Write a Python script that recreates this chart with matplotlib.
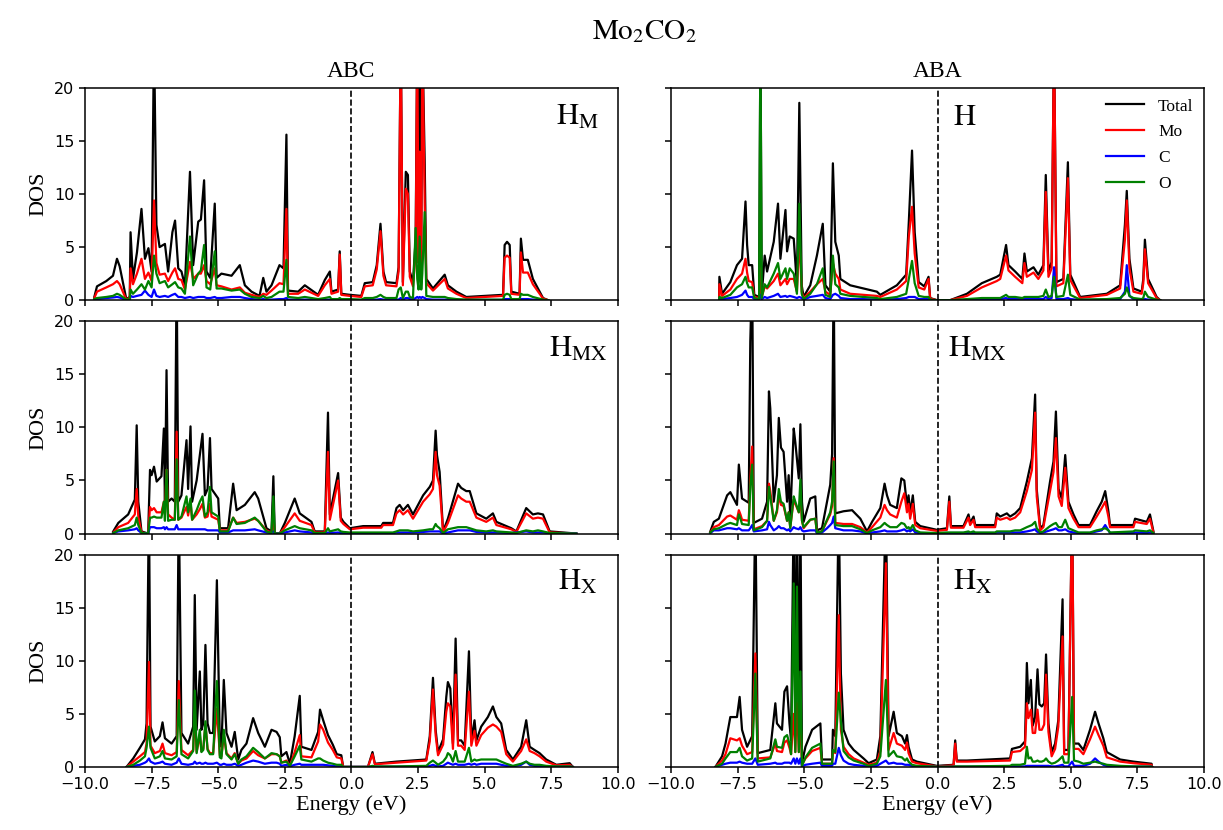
import matplotlib
matplotlib.use("Agg")
import matplotlib.pyplot as plt

plt.rcParams['font.family'] = ['Liberation Serif', 'DejaVu Serif']
plt.rcParams['mathtext.fontset'] = 'stix'

# ---------------- ABC / H_M ----------------
abc_hm_e = [-9.65, -9.55, -9.2, -8.95, -8.8, -8.7, -8.45, -8.32, -8.29, -8.2,
            -8.05, -7.88, -7.75, -7.62, -7.5, -7.41, -7.32, -7.2, -7.0, -6.88,
            -6.72, -6.62, -6.5, -6.38, -6.25, -6.06, -5.94, -5.75, -5.65, -5.53,
            -5.44, -5.3, -5.13, -5.06, -4.88, -4.5, -4.19, -4.0, -3.75, -3.45,
            -3.31, -3.19, -3.0, -2.7, -2.55, -2.44, -2.38, -2.0, -1.75, -1.25,
            -1.0, -0.81, -0.75, -0.5, -0.44, -0.38, -0.06, 0.37, 0.5, 0.8,
            0.95, 1.09, 1.2, 1.3, 1.69, 1.77, 1.85, 1.93, 2.04, 2.12,
            2.19, 2.31, 2.41, 2.47, 2.52, 2.56, 2.62, 2.66, 2.75, 2.81,
            3.06, 3.5, 3.62, 3.94, 4.31, 5.69, 5.75, 5.84, 5.94, 6.0,
            6.31, 6.36, 6.44, 6.62, 6.81, 7.19, 7.38]
abc_hm_total = [0.3, 1.3, 1.8, 2.3, 3.9, 3.2, 0.1, 0.3, 6.4, 2.0,
                4.5, 8.6, 3.9, 4.9, 2.7, 25, 7.1, 5.0, 5.3, 2.7,
                6.4, 7.5, 3.0, 2.7, 1.4, 12.1, 3.3, 7.4, 7.6, 11.3,
                2.7, 2.1, 9.1, 2.1, 2.5, 2.3, 3.3, 1.4, 0.8, 0.4,
                2.1, 0.8, 1.4, 3.3, 3.0, 15.6, 0.9, 0.8, 1.4, 0.5,
                1.9, 2.7, 0.8, 1.0, 4.6, 0.6, 0.5, 0.4, 1.6, 1.7,
                3.3, 7.2, 2.7, 1.7, 1.6, 3.1, 25, 1.7, 12.1, 11.8,
                2.7, 1.7, 5.8, 25, 5.0, 25, 5.0, 25, 13.0, 2.0,
                1.1, 2.4, 1.4, 0.8, 0.3, 0.5, 5.2, 5.5, 5.2, 0.8,
                0.6, 5.8, 3.8, 3.8, 2.0, 0.2, 0.0]
abc_hm_mo = [0.2, 0.8, 1.2, 1.5, 1.8, 1.5, 0.05, 0.2, 3.0, 1.5,
             2.5, 3.9, 2.0, 2.6, 1.8, 9.4, 3.5, 2.4, 2.5, 1.8,
             2.6, 3.0, 2.0, 1.9, 1.0, 3.6, 2.0, 2.5, 2.5, 3.3,
             1.8, 1.5, 3.0, 1.4, 1.3, 1.0, 1.2, 0.7, 0.5, 0.3,
             0.6, 0.5, 0.9, 1.6, 1.5, 8.6, 0.6, 0.6, 1.0, 0.4,
             1.4, 2.0, 0.6, 0.8, 4.3, 0.5, 0.4, 0.3, 1.3, 1.4,
             2.9, 6.5, 2.3, 1.4, 1.3, 2.7, 25, 1.4, 10.5, 10.0,
             2.2, 1.3, 4.5, 25, 3.5, 14, 3.5, 25, 9.0, 1.6,
             0.9, 2.0, 1.1, 0.6, 0.2, 0.4, 4.0, 4.2, 4.0, 0.6,
             0.5, 4.5, 2.6, 2.6, 1.5, 0.15, 0.0]
abc_hm_c = [0.05, 0.1, 0.2, 0.25, 0.3, 0.25, 0, 0, 0.4, 0.3,
            0.4, 0.5, 0.9, 0.5, 0.3, 1.0, 0.4, 0.3, 0.4, 0.3,
            0.5, 0.6, 0.3, 0.3, 0.2, 0.3, 0.2, 0.3, 0.3, 0.3,
            0.2, 0.2, 0.3, 0.2, 0.2, 0.3, 0.3, 0.2, 0.1, 0.05,
            0.1, 0.05, 0.05, 0.1, 0.1, 0.2, 0.05, 0.05, 0.05, 0.05,
            0.05, 0.05, 0.02, 0.02, 0.05, 0.02, 0.02, 0.02, 0.05, 0.05,
            0.05, 0.1, 0.05, 0.05, 0.05, 0.05, 0.2, 0.05, 0.2, 0.2,
            0.1, 0.05, 0.2, 0.3, 0.2, 0.3, 0.2, 0.3, 0.2, 0.1,
            0.05, 0.05, 0.05, 0.02, 0.02, 0.02, 0.1, 0.1, 0.1, 0.02,
            0.02, 0.1, 0.1, 0.1, 0.05, 0.01, 0]
abc_hm_o = [0.1, 0.2, 0.3, 0.4, 0.6, 0.5, 0.05, 0.1, 1.0, 0.6,
            1.0, 1.5, 1.0, 1.8, 1.2, 4.2, 2.5, 1.6, 1.8, 1.2,
            1.5, 1.7, 1.2, 1.1, 0.6, 6.0, 1.4, 2.5, 2.8, 5.2,
            1.2, 1.0, 4.6, 1.1, 1.1, 0.9, 1.0, 0.6, 0.3, 0.2,
            0.4, 0.2, 0.3, 0.8, 0.8, 3.8, 0.3, 0.2, 0.3, 0.1,
            0.2, 0.3, 0.1, 0.1, 0.2, 0.1, 0.1, 0.05, 0.2, 0.2,
            0.3, 0.5, 0.3, 0.2, 0.2, 1.0, 1.2, 0.2, 0.8, 0.8,
            0.3, 0.2, 6.8, 2.0, 1.0, 6.0, 1.0, 2.5, 8.3, 0.4,
            0.3, 0.3, 0.2, 0.1, 0.05, 0.05, 0.5, 0.6, 0.5, 0.1,
            0.1, 0.6, 0.5, 0.5, 0.3, 0.05, 0]

# ---------------- ABA / H ----------------
aba_h_e = [-8.2, -8.19, -8.09, -7.78, -7.53, -7.34, -7.21, -7.15, -7.09, -6.96,
           -6.88, -6.7, -6.65, -6.6, -6.49, -6.4, -6.15, -5.99, -5.9, -5.71,
           -5.65, -5.55, -5.4, -5.28, -5.19, -5.1, -5.03, -4.78, -4.53, -4.31,
           -4.21, -4.03, -3.93, -3.84, -3.71, -3.65, -3.28, -2.78, -2.28, -2.15,
           -1.53, -1.18, -1.08, -0.96, -0.86, -0.71, -0.5, -0.34, -0.28, -0.03,
           0.47, 1.1, 1.66, 2.22, 2.35, 2.57, 2.66, 2.91, 3.18, 3.26,
           3.35, 3.6, 3.78, 3.97, 4.06, 4.16, 4.28, 4.37, 4.46, 4.72,
           4.89, 4.98, 5.35, 6.35, 6.85, 7.03, 7.1, 7.2, 7.35, 7.66,
           7.72, 7.78, 7.9, 8.22, 8.35]
aba_h_total = [0.0, 2.2, 0.6, 1.7, 3.3, 3.9, 9.3, 5.2, 3.3, 3.3,
               0.5, 0.3, 25, 0.5, 4.2, 2.7, 5.5, 9.1, 3.9, 8.5,
               4.6, 6.0, 5.8, 1.4, 18.6, 1.4, 0.3, 1.4, 4.2, 7.2,
               1.4, 0.8, 12.9, 5.5, 4.2, 2.0, 1.4, 1.1, 0.8, 0.5,
               1.4, 2.4, 7.4, 14.1, 6.4, 1.7, 1.3, 2.2, 0.2, 0.0,
               0.0, 0.6, 1.6, 2.2, 2.4, 5.2, 3.3, 2.7, 2.0, 4.4,
               2.7, 3.1, 2.4, 3.3, 11.8, 2.7, 3.6, 25, 1.7, 2.0,
               13.0, 2.4, 0.3, 0.6, 1.4, 7.1, 10.3, 3.9, 1.1, 0.8,
               2.0, 5.7, 2.0, 0.3, 0.0]
aba_h_mo = [0, 1.5, 0.4, 1.0, 2.0, 2.5, 3.9, 2.6, 1.8, 1.7,
            0.3, 0.2, 3.0, 0.3, 1.3, 1.1, 1.8, 2.5, 1.4, 2.0,
            1.5, 2.0, 2.0, 0.8, 6.0, 0.8, 0.2, 0.8, 1.5, 2.0,
            0.8, 0.5, 3.5, 2.5, 2.0, 1.0, 0.6, 0.5, 0.4, 0.3,
            1.0, 1.8, 6.0, 8.8, 4.4, 1.2, 1.0, 2.0, 0.15, 0,
            0, 0.4, 1.2, 1.8, 2.0, 4.2, 2.8, 2.2, 1.6, 3.5,
            2.2, 2.6, 2.0, 2.8, 10.2, 2.2, 3.0, 25, 1.3, 1.6,
            11.5, 1.9, 0.2, 0.5, 1.1, 5.7, 9.4, 3.0, 0.8, 0.6,
            1.6, 4.8, 1.6, 0.2, 0]
aba_h_c = [0, 0.2, 0.1, 0.2, 0.3, 0.5, 0.9, 0.5, 0.3, 0.3,
           0.1, 0.05, 0.5, 0.1, 0.3, 0.2, 0.4, 0.6, 0.3, 0.4,
           0.3, 0.4, 0.3, 0.2, 0.3, 0.2, 0.05, 0.3, 0.4, 0.5,
           0.2, 0.1, 0.5, 0.6, 0.4, 0.2, 0.1, 0.1, 0.05, 0.05,
           0.1, 0.2, 0.3, 0.3, 0.3, 0.1, 0.1, 0.1, 0.02, 0,
           0, 0.02, 0.05, 0.1, 0.1, 0.2, 0.1, 0.1, 0.1, 0.1,
           0.1, 0.1, 0.1, 0.1, 0.3, 0.1, 0.2, 3.1, 0.1, 0.1,
           0.2, 0.1, 0.02, 0.05, 0.1, 0.8, 3.3, 0.4, 0.1, 0.05,
           0.05, 0.1, 0.05, 0.01, 0]
aba_h_o = [0, 0.3, 0.2, 0.5, 1.2, 1.5, 2.2, 1.6, 1.2, 1.2,
           0.2, 0.1, 25, 0.2, 1.5, 1.2, 2.5, 3.5, 2.0, 3.0,
           2.0, 3.0, 2.5, 0.6, 9.1, 0.6, 0.1, 0.6, 1.5, 3.0,
           0.5, 0.3, 4.2, 1.5, 1.2, 0.6, 0.4, 0.3, 0.2, 0.1,
           0.3, 0.6, 2.0, 3.7, 1.6, 0.4, 0.3, 0.3, 0.05, 0,
           0, 0.1, 0.2, 0.2, 0.2, 0.5, 0.3, 0.3, 0.2, 0.3,
           0.3, 0.3, 0.3, 0.4, 1.0, 0.3, 0.4, 2.2, 0.3, 0.4,
           2.4, 0.5, 0.05, 0.1, 0.2, 0.6, 1.2, 0.4, 0.2, 0.1,
           0.2, 0.8, 0.3, 0.05, 0]

# ---------------- ABC / H_MX ----------------
abc_hmx_e = [-8.94, -8.75, -8.38, -8.13, -8.06, -8.0, -7.88, -7.63, -7.56, -7.5,
             -7.41, -7.31, -7.13, -7.04, -7.0, -6.94, -6.88, -6.75, -6.63, -6.56,
             -6.5, -6.38, -6.19, -6.13, -6.04, -5.98, -5.81, -5.69, -5.59, -5.5,
             -5.4, -5.31, -5.25, -5.0, -4.94, -4.63, -4.44, -4.31, -4.0, -3.63,
             -3.5, -3.19, -3.0, -2.93, -2.88, -2.69, -2.5, -2.13, -1.94, -1.5,
             -1.38, -1.0, -0.88, -0.81, -0.5, -0.4, -0.3, -0.06, 0.44, 1.12,
             1.19, 1.56, 1.69, 1.81, 1.94, 2.12, 2.31, 2.69, 2.94, 3.06,
             3.16, 3.21, 3.31, 3.44, 3.62, 4.0, 4.12, 4.31, 4.44, 4.69,
             5.06, 5.31, 5.44, 6.0, 6.19, 6.56, 6.81, 7.0, 7.19, 7.44,
             7.94, 8.44]
abc_hmx_total = [0.2, 1.0, 1.8, 3.2, 10.2, 3.0, 0.2, 0.0, 6.0, 5.5,
                 6.3, 4.9, 5.4, 9.9, 3.0, 15.4, 3.0, 3.3, 3.0, 25,
                 3.0, 3.6, 8.8, 4.2, 10.1, 3.0, 5.0, 7.4, 9.4, 3.6,
                 4.2, 9.0, 4.2, 3.3, 0.5, 0.5, 4.7, 2.2, 2.7, 3.9,
                 3.3, 0.5, 0.2, 5.4, 0.0, 0.0, 1.0, 3.3, 1.9, 1.1,
                 0.2, 0.2, 11.4, 1.8, 5.7, 1.5, 1.1, 0.5, 0.7, 0.7,
                 1.0, 1.0, 2.4, 2.7, 2.2, 2.7, 1.8, 3.6, 4.4, 5.0,
                 9.7, 7.4, 5.8, 0.2, 1.4, 4.7, 4.3, 4.0, 4.0, 1.9,
                 1.4, 1.9, 1.1, 0.5, 0.2, 2.4, 1.8, 1.9, 1.8, 0.2,
                 0.1, 0.0]
abc_hmx_mo = [0.1, 0.6, 1.0, 1.8, 4.2, 1.6, 0.1, 0, 2.5, 2.2,
              2.4, 2.0, 2.0, 3.0, 1.8, 6.0, 1.8, 1.5, 1.3, 9.6,
              1.3, 1.5, 2.5, 1.7, 3.0, 1.3, 1.8, 2.3, 2.8, 1.5,
              1.6, 2.8, 1.6, 1.3, 0.3, 0.3, 1.5, 1.0, 1.1, 1.4,
              1.2, 0.3, 0.1, 1.5, 0, 0, 0.6, 1.9, 1.2, 0.8,
              0.1, 0.1, 7.7, 1.3, 5.0, 1.2, 0.9, 0.4, 0.55, 0.55,
              0.8, 0.8, 1.9, 2.2, 1.8, 2.2, 1.4, 3.0, 3.7, 4.2,
              7.7, 5.5, 4.5, 0.1, 1.0, 3.6, 3.3, 3.0, 3.0, 1.5,
              1.1, 1.5, 0.8, 0.4, 0.15, 1.9, 1.4, 1.5, 1.4, 0.1,
              0.05, 0]
abc_hmx_c = [0.05, 0.2, 0.3, 0.4, 0.5, 0.3, 0.05, 0, 0.6, 0.6,
             0.6, 0.5, 0.5, 0.6, 0.4, 0.6, 0.4, 0.4, 0.4, 0.8,
             0.4, 0.4, 0.4, 0.4, 0.4, 0.4, 0.4, 0.4, 0.4, 0.4,
             0.3, 0.3, 0.3, 0.3, 0.1, 0.1, 0.3, 0.3, 0.3, 0.4,
             0.3, 0.1, 0.05, 0.2, 0, 0, 0.1, 0.3, 0.2, 0.1,
             0.02, 0.02, 0.1, 0.05, 0.1, 0.05, 0.05, 0.02, 0.03, 0.03,
             0.03, 0.03, 0.1, 0.1, 0.1, 0.1, 0.1, 0.15, 0.2, 0.2,
             0.2, 0.2, 0.2, 0.02, 0.1, 0.3, 0.3, 0.3, 0.3, 0.15,
             0.1, 0.1, 0.1, 0.05, 0.1, 0.2, 0.1, 0.1, 0.1, 0.02,
             0, 0]
abc_hmx_o = [0.05, 0.3, 0.5, 0.8, 1.5, 0.8, 0.05, 0, 1.5, 1.5,
             1.6, 1.5, 1.5, 3.0, 1.2, 6.0, 1.2, 1.3, 1.3, 7.0,
             1.3, 1.6, 3.5, 2.0, 3.3, 1.3, 2.2, 3.0, 3.5, 1.6,
             2.0, 4.4, 2.0, 1.6, 0.2, 0.2, 1.5, 0.9, 1.0, 1.5,
             1.2, 0.2, 0.05, 3.5, 0, 0, 0.3, 0.7, 0.5, 0.3,
             0.05, 0.05, 0.5, 0.2, 0.4, 0.2, 0.15, 0.1, 0.1, 0.1,
             0.1, 0.1, 0.2, 0.3, 0.3, 0.3, 0.2, 0.3, 0.4, 0.4,
             0.9, 0.7, 0.5, 0.05, 0.4, 0.6, 0.6, 0.6, 0.5, 0.3,
             0.2, 0.3, 0.2, 0.1, 0.05, 0.3, 0.2, 0.3, 0.2, 0.05,
             0.02, 0]

# ---------------- ABA / H_MX ----------------
aba_hmx_e = [-8.53, -8.4, -8.21, -7.9, -7.78, -7.53, -7.46, -7.4, -7.34, -7.09,
             -7.03, -6.96, -6.9, -6.59, -6.4, -6.33, -6.28, -6.15, -6.03, -5.96,
             -5.88, -5.78, -5.65, -5.59, -5.53, -5.4, -5.34, -5.21, -5.15, -5.09,
             -5.03, -4.78, -4.59, -4.53, -4.34, -4.15, -4.03, -3.96, -3.9, -3.84,
             -3.53, -3.21, -2.9, -2.65, -2.46, -2.15, -1.99, -1.9, -1.78, -1.53,
             -1.36, -1.25, -1.15, -1.09, -1.03, -0.93, -0.84, -0.65, -0.03, 0.35,
             0.44, 0.5, 0.97, 1.16, 1.22, 1.35, 1.41, 2.16, 2.22, 2.35,
             2.6, 2.72, 2.91, 3.1, 3.35, 3.54, 3.66, 3.72, 3.85, 3.97,
             4.22, 4.35, 4.44, 4.54, 4.66, 4.79, 4.91, 5.1, 5.29, 5.72,
             5.97, 6.16, 6.29, 6.41, 6.47, 7.35, 7.41, 7.85, 7.97, 8.1]
aba_hmx_total = [0.2, 1.1, 1.4, 3.6, 3.9, 2.7, 6.5, 4.9, 3.3, 2.9,
                 18.1, 25, 1.0, 1.4, 3.0, 13.4, 11.8, 3.0, 5.5, 10.9,
                 8.1, 7.7, 3.0, 5.5, 1.4, 9.9, 8.6, 5.2, 10.3, 3.0,
                 1.1, 3.3, 3.5, 0.3, 0.5, 3.0, 4.6, 7.5, 25, 1.9,
                 2.1, 2.2, 1.4, 0.2, 1.1, 2.4, 4.7, 3.6, 2.7, 2.4,
                 5.2, 5.0, 2.6, 3.6, 1.9, 3.6, 1.1, 0.7, 0.35, 0.5,
                 3.5, 0.7, 0.7, 1.8, 1.0, 1.6, 0.8, 0.8, 1.9, 1.6,
                 1.9, 1.6, 1.9, 2.4, 4.9, 7.1, 13.1, 4.2, 0.5, 0.8,
                 4.9, 6.8, 11.5, 4.2, 3.3, 7.4, 3.0, 1.8, 0.8, 0.8,
                 2.1, 3.0, 4.0, 2.1, 0.8, 0.8, 1.4, 1.1, 1.8, 0.2]
aba_hmx_mo = [0.1, 0.6, 0.8, 1.6, 1.7, 1.3, 2.2, 1.8, 1.3, 1.2,
              5.0, 8.2, 0.4, 0.7, 1.2, 4.7, 4.0, 1.2, 2.0, 3.6,
              2.7, 2.6, 1.2, 2.0, 0.6, 3.2, 2.8, 2.0, 3.4, 1.2,
              0.5, 1.3, 1.4, 0.1, 0.2, 1.2, 1.8, 2.6, 7.1, 1.0,
              0.9, 0.9, 0.6, 0.1, 0.6, 1.5, 2.7, 2.2, 1.8, 1.5,
              3.0, 3.8, 2.0, 2.8, 1.4, 2.8, 0.8, 0.5, 0.25, 0.35,
              3.0, 0.55, 0.55, 1.5, 0.8, 1.3, 0.6, 0.6, 1.5, 1.3,
              1.5, 1.3, 1.5, 2.0, 4.0, 6.0, 11.4, 3.5, 0.3, 0.6,
              4.0, 5.8, 9.0, 3.5, 2.6, 6.2, 2.4, 1.4, 0.6, 0.6,
              1.6, 2.4, 3.0, 1.6, 0.6, 0.6, 1.1, 0.9, 1.4, 0.1]
aba_hmx_c = [0.05, 0.3, 0.3, 0.5, 0.5, 0.4, 0.5, 0.4, 0.3, 0.3,
             0.5, 0.8, 0.2, 0.3, 0.4, 1.1, 0.8, 0.3, 0.5, 0.7,
             0.5, 0.5, 0.3, 0.4, 0.2, 0.6, 0.5, 0.4, 0.6, 0.3,
             0.2, 0.3, 0.3, 0.05, 0.1, 0.5, 0.8, 1.0, 1.6, 0.5,
             0.3, 0.3, 0.2, 0.02, 0.1, 0.2, 0.3, 0.2, 0.2, 0.2,
             0.3, 0.4, 0.2, 0.3, 0.2, 0.4, 0.1, 0.05, 0.02, 0.05,
             0.05, 0.05, 0.05, 0.05, 0.05, 0.05, 0.05, 0.05, 0.1, 0.1,
             0.1, 0.1, 0.1, 0.1, 0.2, 0.3, 0.4, 0.2, 0.05, 0.1,
             0.3, 0.4, 0.5, 0.3, 0.3, 0.4, 0.2, 0.1, 0.05, 0.05,
             0.2, 0.3, 0.8, 0.3, 0.05, 0.05, 0.1, 0.05, 0.1, 0.01]
aba_hmx_o = [0.1, 0.4, 0.5, 0.9, 1.0, 0.8, 1.8, 1.4, 0.9, 0.8,
             4.5, 6.5, 0.3, 0.6, 1.2, 4.4, 3.5, 1.2, 2.2, 4.2,
             3.0, 2.8, 1.2, 2.0, 0.5, 3.5, 3.0, 2.0, 5.1, 1.2,
             0.6, 1.3, 1.4, 0.1, 0.2, 1.3, 2.0, 3.0, 6.8, 0.8,
             0.7, 0.7, 0.4, 0.05, 0.3, 0.6, 1.0, 0.8, 0.6, 0.6,
             1.0, 0.9, 0.5, 0.6, 0.4, 0.8, 0.3, 0.1, 0.05, 0.1,
             0.1, 0.1, 0.1, 0.2, 0.1, 0.2, 0.1, 0.1, 0.2, 0.2,
             0.2, 0.2, 0.3, 0.3, 0.6, 0.8, 1.1, 0.5, 0.1, 0.2,
             0.7, 0.9, 1.0, 0.6, 0.6, 1.3, 0.5, 0.3, 0.1, 0.1,
             0.3, 0.4, 0.5, 0.3, 0.1, 0.2, 0.3, 0.2, 0.3, 0.05]

# ---------------- ABC / H_X ----------------
abc_hx_e = [-8.44, -8.19, -7.94, -7.75, -7.69, -7.6, -7.54, -7.38, -7.19, -7.09,
            -7.0, -6.75, -6.56, -6.48, -6.38, -6.13, -5.94, -5.88, -5.81, -5.69,
            -5.63, -5.56, -5.48, -5.4, -5.31, -5.19, -5.05, -4.94, -4.88, -4.79,
            -4.69, -4.5, -4.38, -4.25, -4.13, -3.94, -3.69, -3.5, -3.25, -3.0,
            -2.81, -2.69, -2.63, -2.44, -2.31, -2.13, -1.94, -1.88, -1.5, -1.25,
            -1.18, -1.06, -0.88, -0.7, -0.55, -0.38, -0.31, 0.62, 0.79, 0.88,
            1.69, 2.81, 2.94, 3.06, 3.16, 3.25, 3.44, 3.56, 3.62, 3.71,
            3.81, 3.91, 4.0, 4.12, 4.25, 4.41, 4.5, 4.62, 4.69, 4.87,
            5.12, 5.31, 5.44, 5.62, 5.81, 6.06, 6.37, 6.56, 6.69, 6.87,
            7.06, 7.31, 7.69, 8.19, 8.31]
abc_hx_total = [0.0, 0.8, 1.8, 2.6, 4.1, 25, 3.8, 2.4, 2.9, 4.2,
                2.7, 2.2, 2.9, 25, 3.2, 2.2, 3.8, 16.2, 3.5, 9.0,
                3.5, 4.1, 11.5, 4.1, 3.2, 3.2, 17.6, 2.2, 1.9, 8.2,
                3.2, 1.9, 3.3, 0.7, 1.6, 2.2, 4.6, 3.2, 1.9, 3.5,
                3.3, 2.8, 1.0, 1.4, 0.3, 2.9, 6.7, 1.9, 1.6, 3.3,
                5.4, 4.4, 3.0, 2.1, 1.2, 1.1, 0.0, 0.0, 1.4, 0.3,
                0.5, 0.7, 2.9, 8.4, 3.5, 1.4, 2.6, 6.6, 8.0, 7.4,
                2.2, 12.1, 2.5, 2.5, 2.0, 10.9, 2.5, 4.4, 2.5, 3.8,
                4.7, 5.7, 4.7, 4.1, 1.6, 0.7, 1.9, 4.4, 1.9, 1.6,
                1.3, 0.7, 0.2, 0.35, 0.0]
abc_hx_mo = [0, 0.5, 1.0, 1.4, 2.2, 9.9, 2.0, 1.3, 1.5, 2.2,
             1.3, 1.1, 1.4, 8.1, 1.6, 1.1, 1.6, 5.0, 1.4, 3.0,
             1.5, 1.7, 4.0, 1.7, 1.3, 1.3, 5.5, 1.1, 1.0, 3.0,
             1.3, 0.8, 1.3, 0.3, 0.6, 0.8, 1.5, 1.1, 0.8, 1.2,
             1.2, 1.0, 0.4, 0.6, 0.1, 1.4, 3.0, 1.0, 0.9, 2.4,
             4.0, 3.5, 2.3, 1.6, 0.9, 0.8, 0, 0, 1.2, 0.25,
             0.4, 0.6, 2.4, 7.3, 3.0, 1.1, 2.1, 5.2, 6.0, 5.7,
             1.7, 8.7, 2.0, 2.0, 1.6, 7.1, 2.0, 3.4, 2.0, 3.0,
             3.7, 4.0, 3.8, 3.3, 1.2, 0.5, 1.5, 2.6, 1.5, 1.3,
             1.0, 0.5, 0.15, 0.2, 0]
abc_hx_c = [0, 0.1, 0.2, 0.4, 0.5, 0.8, 0.5, 0.3, 0.4, 0.5,
            0.3, 0.2, 0.4, 0.8, 0.3, 0.2, 0.3, 0.5, 0.3, 0.4,
            0.3, 0.3, 0.4, 0.3, 0.3, 0.3, 0.4, 0.2, 0.2, 0.3,
            0.2, 0.2, 0.3, 0.1, 0.2, 0.4, 0.6, 0.5, 0.3, 0.4,
            0.4, 0.3, 0.1, 0.2, 0.05, 0.2, 0.3, 0.2, 0.2, 0.2,
            0.2, 0.2, 0.15, 0.1, 0.05, 0.05, 0, 0, 0.02, 0.02,
            0.02, 0.05, 0.1, 0.2, 0.1, 0.05, 0.1, 0.3, 0.4, 0.3,
            0.2, 0.3, 0.2, 0.2, 0.2, 0.3, 0.2, 0.3, 0.2, 0.3,
            0.3, 0.3, 0.3, 0.2, 0.1, 0.05, 0.2, 0.5, 0.2, 0.1,
            0.05, 0.05, 0.02, 0.02, 0]
abc_hx_o = [0, 0.2, 0.6, 1.0, 1.8, 3.8, 1.8, 0.8, 1.0, 1.5,
            0.8, 0.7, 1.0, 6.3, 1.2, 0.8, 1.5, 7.2, 1.3, 3.5,
            1.4, 1.6, 4.3, 1.6, 1.2, 1.2, 8.1, 0.9, 0.8, 3.5,
            1.2, 0.7, 1.2, 0.3, 0.7, 1.0, 1.8, 1.4, 0.8, 1.3,
            1.2, 1.0, 0.4, 0.5, 0.1, 1.0, 2.0, 0.7, 0.5, 0.8,
            0.8, 0.6, 0.4, 0.3, 0.2, 0.2, 0, 0, 0.1, 0.05,
            0.05, 0.1, 0.4, 0.6, 0.4, 0.2, 0.5, 0.9, 1.3, 1.1,
            0.5, 1.5, 0.5, 0.5, 0.5, 1.8, 0.5, 0.7, 0.6, 0.7,
            0.7, 0.7, 0.7, 0.5, 0.3, 0.1, 0.3, 0.5, 0.3, 0.2,
            0.2, 0.1, 0.05, 0.05, 0]

# ---------------- ABA / H_X ----------------
aba_hx_e = [-8.34, -8.09, -7.96, -7.78, -7.53, -7.43, -7.34, -7.15, -6.96, -6.84,
            -6.75, -6.28, -6.09, -6.03, -5.84, -5.75, -5.65, -5.56, -5.5, -5.4,
            -5.34, -5.28, -5.21, -5.15, -5.09, -4.96, -4.71, -4.4, -4.34, -3.96,
            -3.93, -3.84, -3.71, -3.63, -3.53, -3.34, -3.15, -2.78, -2.59, -2.28,
            -2.15, -1.94, -1.84, -1.65, -1.53, -1.34, -1.22, -1.15, -1.09, -0.96,
            -0.78, -0.03, 0.6, 0.66, 0.72, 1.1, 2.72, 2.79, 3.1, 3.28,
            3.35, 3.41, 3.5, 3.57, 3.66, 3.75, 3.82, 3.91, 4.0, 4.07,
            4.16, 4.28, 4.41, 4.53, 4.69, 4.75, 4.91, 5.05, 5.12, 5.29,
            5.47, 5.72, 5.91, 6.04, 6.22, 6.35, 6.85, 7.35, 8.03, 8.05]
aba_hx_total = [0.0, 1.0, 2.2, 4.7, 4.7, 6.6, 3.5, 1.9, 2.9, 25,
                1.3, 1.6, 6.0, 4.1, 3.5, 7.1, 7.6, 4.1, 2.5, 25,
                3.0, 25, 3.0, 25, 0.4, 1.9, 3.5, 4.1, 0.7, 0.7,
                3.5, 2.9, 25, 8.8, 3.5, 2.2, 1.6, 0.8, 0.35, 0.7,
                2.9, 25, 2.9, 5.2, 3.2, 2.9, 2.2, 3.0, 1.9, 0.7,
                0.5, 0.1, 0.2, 2.5, 0.6, 0.6, 0.8, 1.7, 1.9, 2.4,
                9.8, 6.0, 8.2, 3.9, 4.7, 9.2, 5.9, 5.7, 6.0, 10.6,
                4.1, 1.4, 2.2, 4.4, 15.8, 1.6, 1.6, 25, 2.2, 2.2,
                1.6, 3.5, 5.2, 4.1, 2.7, 1.4, 0.7, 0.5, 0.3, 0.0]
aba_hx_mo = [0, 0.6, 1.2, 2.7, 2.5, 2.7, 2.0, 1.2, 1.4, 10.7,
             0.8, 0.9, 2.2, 1.5, 1.4, 2.3, 2.5, 1.8, 1.2, 5.0,
             1.4, 6.0, 1.4, 5.0, 0.2, 0.8, 1.5, 1.8, 0.3, 0.3,
             1.5, 1.3, 14.3, 3.5, 1.9, 1.2, 0.8, 0.4, 0.2, 0.4,
             1.5, 19.2, 1.6, 3.2, 2.2, 2.0, 1.6, 2.3, 1.3, 0.5,
             0.35, 0.05, 0.15, 2.2, 0.5, 0.5, 0.6, 1.4, 1.5, 1.9,
             6.0, 4.6, 5.4, 3.2, 3.2, 5.4, 3.5, 3.5, 4.0, 8.7,
             3.3, 1.0, 1.7, 3.8, 12.3, 1.2, 1.2, 25, 1.7, 1.7,
             1.2, 2.6, 3.8, 3.0, 2.0, 0.9, 0.5, 0.35, 0.2, 0]
aba_hx_c = [0, 0.2, 0.3, 0.4, 0.4, 0.5, 0.4, 0.3, 0.3, 0.8,
            0.2, 0.3, 0.4, 0.3, 0.3, 0.4, 0.4, 0.4, 0.3, 0.8,
            0.3, 0.8, 0.3, 0.8, 0.05, 0.2, 0.3, 0.4, 0.1, 0.1,
            0.3, 0.3, 1.8, 1.1, 0.6, 0.3, 0.2, 0.1, 0.05, 0.1,
            0.3, 0.6, 0.3, 0.4, 0.3, 0.3, 0.2, 0.2, 0.2, 0.1,
            0.05, 0.01, 0.01, 0.02, 0.02, 0.02, 0.02, 0.05, 0.05, 0.05,
            0.1, 0.1, 0.1, 0.1, 0.1, 0.1, 0.1, 0.1, 0.1, 0.1,
            0.1, 0.05, 0.05, 0.1, 0.2, 0.05, 0.05, 0.5, 0.1, 0.1,
            0.1, 0.3, 0.8, 0.5, 0.2, 0.1, 0.05, 0.03, 0.02, 0]
aba_hx_o = [0, 0.3, 0.8, 1.4, 1.4, 1.8, 1.0, 0.6, 0.8, 8.8,
            0.5, 0.8, 2.6, 1.9, 1.8, 2.8, 3.0, 2.2, 1.2, 17.3,
            1.4, 17.0, 1.4, 9.0, 0.1, 0.9, 1.8, 2.2, 0.3, 0.3,
            1.6, 1.4, 7.0, 4.3, 1.5, 0.9, 0.6, 0.3, 0.1, 0.3,
            1.0, 8.2, 1.0, 1.5, 1.0, 0.9, 0.6, 0.8, 0.5, 0.2,
            0.1, 0.02, 0.02, 0.05, 0.05, 0.05, 0.1, 0.2, 0.2, 0.3,
            1.9, 0.8, 0.9, 0.5, 0.5, 0.6, 0.5, 0.5, 0.6, 0.8,
            0.5, 0.3, 0.4, 0.6, 1.0, 0.4, 0.4, 6.6, 0.6, 0.5,
            0.3, 0.4, 0.5, 0.4, 0.3, 0.2, 0.1, 0.05, 0.03, 0]

columns = ['ABC', 'ABA']
panel_labels = [[r'$\mathrm{H_M}$', r'$\mathrm{H}$'],
                [r'$\mathrm{H_{MX}}$', r'$\mathrm{H_{MX}}$'],
                [r'$\mathrm{H_X}$', r'$\mathrm{H_X}$']]
label_pos = [[(0.925, 0.86), (0.55, 0.86)],
             [(0.925, 0.87), (0.575, 0.87)],
             [(0.925, 0.87), (0.565, 0.87)]]

panels = [
    [(abc_hm_e, abc_hm_total, abc_hm_mo, abc_hm_c, abc_hm_o),
     (aba_h_e, aba_h_total, aba_h_mo, aba_h_c, aba_h_o)],
    [(abc_hmx_e, abc_hmx_total, abc_hmx_mo, abc_hmx_c, abc_hmx_o),
     (aba_hmx_e, aba_hmx_total, aba_hmx_mo, aba_hmx_c, aba_hmx_o)],
    [(abc_hx_e, abc_hx_total, abc_hx_mo, abc_hx_c, abc_hx_o),
     (aba_hx_e, aba_hx_total, aba_hx_mo, aba_hx_c, aba_hx_o)],
]
series_names = ['Total', 'Mo', 'C', 'O']
series_colors = ['black', 'red', 'blue', 'green']

fig, axes = plt.subplots(3, 2, figsize=(12.23, 8.30), dpi=100, sharex=True, sharey=True)
fig.subplots_adjust(left=0.0695, right=0.9845, top=0.894, bottom=0.076,
                    wspace=0.1, hspace=0.1)

for r in range(3):
    for c in range(2):
        ax = axes[r, c]
        e = panels[r][c][0]
        for vals, name, col in zip(panels[r][c][1:], series_names, series_colors):
            ax.plot(e, vals, color=col, lw=1.6, label=name)
        ax.axvline(0, color='black', ls='--', lw=1.2)
        ax.set_xlim(-10, 10)
        ax.set_ylim(0, 20)
        ax.set_xticks([-10, -7.5, -5, -2.5, 0, 2.5, 5, 7.5, 10])
        ax.set_yticks([0, 5, 10, 15, 20])
        ax.tick_params(labelsize=11.5, width=1.1, length=4)
        for lab in ax.get_xticklabels() + ax.get_yticklabels():
            lab.set_fontfamily('DejaVu Sans')
        for sp in ax.spines.values():
            sp.set_linewidth(1.1)
        x, y = label_pos[r][c]
        ax.text(x, y, panel_labels[r][c], transform=ax.transAxes,
                ha='center', va='center', fontsize=22)
        if c == 0:
            ax.set_ylabel('DOS', fontsize=16)
        if r == 2:
            ax.set_xlabel('Energy (eV)', fontsize=16, labelpad=2)
        if r == 0:
            ax.set_title(columns[c], fontsize=17, pad=8)

axes[0, 1].legend(loc='upper right', frameon=False, fontsize=12.5,
                  handlelength=2.2, borderaxespad=0.2, labelspacing=0.55)

fig.text(0.527, 0.962, r'$\mathrm{Mo_2CO_2}$', ha='center', va='center', fontsize=21)

fig.savefig('out.png', dpi=100)
